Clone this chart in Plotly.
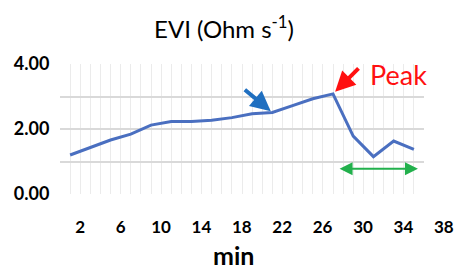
import plotly.graph_objects as go

minutes = [1, 3, 5, 7, 9, 11, 13, 15, 17, 19, 21, 23, 25, 27, 29, 31, 33, 35]
evi = [1.20, 1.43, 1.66, 1.84, 2.12, 2.23, 2.23, 2.27, 2.35, 2.47, 2.51, 2.72, 2.93, 3.08, 1.78, 1.15, 1.63, 1.37]
x_tick_vals = [2, 6, 10, 14, 18, 22, 26, 30, 34, 38]
y_tick_vals = [0, 1, 2, 3, 4]
y_tick_text = ["0.00", "", "2.00", "", "4.00"]

FONT = "Lato"
fig = go.Figure()
fig.add_trace(go.Scatter(x=minutes, y=evi, mode="lines",
                         line=dict(color="#4a6fc0", width=3), showlegend=False))
# invisible trace holding the tick-label axis (x2/y2)
fig.add_trace(go.Scatter(x=[x_tick_vals[0]], y=[0], xaxis="x2", yaxis="y2", mode="markers",
                         marker=dict(opacity=0), showlegend=False, hoverinfo="skip"))

fig.update_layout(
    width=461, height=271,
    margin=dict(l=60, r=0, t=64, b=77),
    paper_bgcolor="white", plot_bgcolor="rgba(0,0,0,0)",
    title=dict(text="EVI (Ohm s<sup>-1</sup>)", x=0.486, xanchor="center",
               y=0.892, yanchor="middle",
               font=dict(family=FONT, size=24, color="black")),
    xaxis=dict(domain=[0, 364 / 401], range=[0, 36], dtick=1, tick0=0,
               showgrid=True, gridcolor="#ebebeb", gridwidth=1,
               showticklabels=False, zeroline=False, showline=False),
    xaxis2=dict(domain=[0, 1], range=[0, 39.7], anchor="y2",
                side="bottom", tickvals=x_tick_vals, showgrid=False,
                ticks="outside", ticklen=18, tickcolor="rgba(0,0,0,0)",
                tickfont=dict(family=FONT, size=17, color="black", weight="bold"),
                zeroline=False, showline=False),
    yaxis2=dict(domain=[0, 1], range=[0, 4], anchor="x2", showgrid=False,
                showticklabels=False, zeroline=False, showline=False),
    yaxis=dict(range=[0, 4], tickvals=y_tick_vals, ticktext=y_tick_text,
               showgrid=True, gridcolor="#d9d9d9", gridwidth=1.5,
               zeroline=False, showline=False,
               ticks="outside", ticklen=6, tickcolor="rgba(0,0,0,0)",
               tickfont=dict(family=FONT, size=18, color="black", weight="bold")),
)

# axis title
fig.add_annotation(text="min", xref="paper", yref="paper", x=(233 - 60) / 401, y=-0.47,
                   xanchor="center", yanchor="middle", showarrow=False,
                   font=dict(family=FONT, size=25, color="black", weight="bold"))
# blue arrow
fig.add_annotation(x=21, y=2.51, xref="x", yref="y", ax=-29, ay=-24, text="",
                   showarrow=True, arrowhead=2, arrowsize=1.0, arrowwidth=4,
                   arrowcolor="#1f6fc0", standoff=2)
# red arrow
fig.add_annotation(x=27, y=3.08, xref="x", yref="y", ax=27, ay=-27, text="",
                   showarrow=True, arrowhead=2, arrowsize=1.0, arrowwidth=4,
                   arrowcolor="#ff1010", standoff=3)
fig.add_annotation(x=33.5, y=3.68, xref="x", yref="y", text="Peak", showarrow=False,
                   font=dict(family=FONT, size=27, color="#ff1010"))
# green double arrow
fig.add_annotation(x=35.4, y=0.78, xref="x", yref="y", ax=27.5, ay=0.78,
                   axref="x", ayref="y", text="", showarrow=True,
                   arrowhead=2, startarrowhead=2, arrowside="end+start",
                   arrowsize=1.3, arrowwidth=2, arrowcolor="#22b04c")

fig.write_html("out.html", config={"displayModeBar": False},
               post_script="document.body.style.margin='0';")
